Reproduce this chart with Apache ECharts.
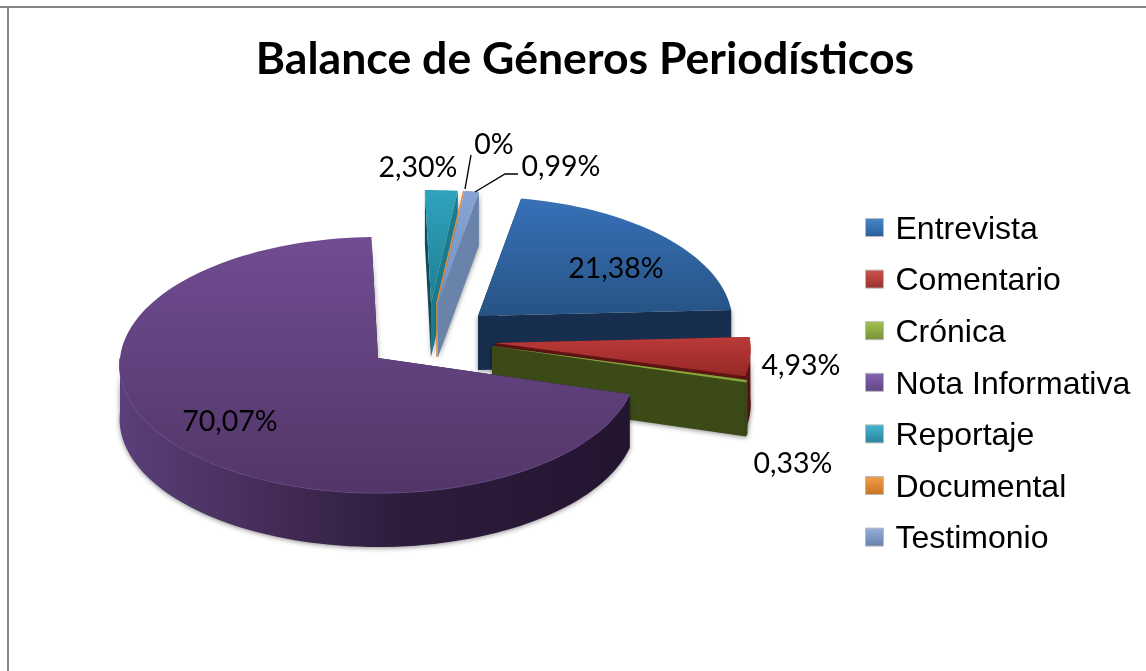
<!DOCTYPE html>
<html>
<head>
<meta charset="utf-8">
<style>html,body{margin:0;padding:0;background:#fff}#c{width:1146px;height:671px}</style>
<script src="https://cdn.jsdelivr.net/npm/echarts@6/dist/echarts.min.js"></script>
</head>
<body>
<div id="c"></div>
<script>
var titleText = 'Balance de Géneros Periodísticos';
var categories = ['Entrevista', 'Comentario', 'Crónica', 'Nota Informativa', 'Reportaje', 'Documental', 'Testimonio'];
var values = [21.38, 4.93, 0.33, 70.07, 2.30, 0, 0.99];
var valueLabels = ['21,38%', '4,93%', '0,33%', '70,07%', '2,30%', '0%', '0,99%'];

// Projection of the tilted pie
var RX = 258, RY = 127.6, PERSP = 0.0547, DEPTH = 54, START = 10.3;

// Appearance and placement of each slice (not data)
var look = {
  'Entrevista':       {ax:478, ay:316, r:0.985, z:4, top:['#3871b9','#265384'], wall:'#172e4e', side:'#172e4e', swatch:['#2a5d99','#4a87cc'], lx:616, ly:269},
  'Comentario':       {ax:495, ay:343, r:0.99,  z:5, top:['#bb3a38','#962826'], wall:'#5f1413', side:'#5f1413', swatch:['#97302e','#d05350'], lx:801, ly:366},
  'Crónica':          {ax:492, ay:346, r:1.01,  z:6, top:['#93ad40','#84a038'], wall:'#3c4a18', side:'#3c4a18', swatch:['#76923a','#a4c24f'], lx:793, ly:464},
  'Nota Informativa': {ax:378, ay:358, r:1,     z:7, top:['#704c92','#523668'], wall:['#5a3f79','#2f1c3c','#231430'], side:'#2a1835', swatch:['#5f4585','#8764b0'], lx:230, ly:422, rim:'#6f5293'},
  'Reportaje':        {ax:431, ay:303, r:0.93,  z:1, top:['#2fa3bd','#1e7f92'], wall:'#114a58', side:'#114a58', sideEnd:'#1c7a8d', swatch:['#2b8199','#46b6d2'], lx:418, ly:168},
  'Documental':       {ax:437, ay:303, r:0.93,  z:3, line:'#dc8d48', top:['#dc8d48','#dc8d48'], wall:'#dc8d48', side:'#dc8d48', swatch:['#c87420','#f0a050'], lx:494, ly:145,
                       leader:[[465,189],[471,155]]},
  'Testimonio':       {ax:438, ay:303, r:0.93,  z:2, top:['#87a3d3','#7692c2'], wall:'#6a83ab', side:'#6a83ab', swatch:['#6880aa','#95b0dc'], lx:561, ly:167,
                       leader:[[475,192],[505,174],[518,174]]}
};

function gradV(c){return {type:'linear',x:0,y:0,x2:0,y2:1,colorStops:[{offset:0,color:c[0]},{offset:1,color:c[1]}]};}
function gradH(c){return {type:'linear',x:0,y:0,x2:1,y2:0,colorStops:[{offset:0,color:c[0]},{offset:0.55,color:c[1]},{offset:1,color:c[2]}]};}

function project(l, deg){
  var t = deg * Math.PI / 180, u = Math.sin(t) * l.r, v = -Math.cos(t) * l.r, k = 1 / (1 - PERSP * v);
  return [l.ax + RX * u * k, l.ay + RY * v * k];
}
function down(p){return [p[0], p[1] + DEPTH];}
function arc(l, a, b){
  var pts = [], n = Math.max(1, Math.ceil((b - a) / 2));
  for (var i = 0; i <= n; i++) pts.push(project(l, a + (b - a) * i / n));
  return pts;
}

var total = values.reduce(function(s, v){return s + v;}, 0);

function makeRender(idx){
  return function(params, api){
    var name = categories[idx], l = look[name], val = api.value(0), before = 0;
    for (var i = 0; i < idx; i++) before += values[i];
    var a = START + before / total * 360, b = a + val / total * 360;
    var apex = [l.ax, l.ay], apexB = down(apex), outer = arc(l, a, b);
    var first = outer[0], last = outer[outer.length - 1];
    var shadow = {shadowBlur:5, shadowColor:'rgba(0,0,0,0.45)', shadowOffsetY:1};
    var kids = [];
    function poly(pts, style){kids.push({type:'polygon', shape:{points:pts}, style:style});}
    function line(pts, color, w){kids.push({type:'polyline', shape:{points:pts}, style:{stroke:color, lineWidth:w, fill:null}});}

    if (l.line) {
      line([first, apex, apexB], l.line, 1.6);
    } else {
      // cut faces
      poly([apex, last, down(last), apexB], Object.assign({fill:l.sideEnd || l.side}, shadow));
      poly([apex, first, down(first), apexB], {fill:l.side});
      // front part of the rounded wall
      var fa = Math.max(a, 90), fb = Math.min(b, 270);
      if (fb > fa) {
        var front = arc(l, fa, fb);
        var fill = Array.isArray(l.wall) ? gradH(l.wall) : l.wall;
        poly(front.concat(front.map(down).reverse()), Object.assign({fill:fill}, shadow));
        if (l.rim) line(front, l.rim, 1.2);
      }
      // top face
      poly([apex].concat(outer), {fill:gradV(l.top)});
    }
    if (l.leader) line(l.leader, '#000', 1.4);
    kids.push({type:'text', z2:50, style:{x:l.lx, y:l.ly, text:valueLabels[idx], fill:'#000',
      font:'28.5px Lato', align:'center', verticalAlign:'middle'}});
    return {type:'group', children:kids};
  };
}

var chart = echarts.init(document.getElementById('c'), null, {renderer:'canvas'});
chart.setOption({
  animation:false,
  backgroundColor:'#fff',
  title:{text:titleText, left:580, top:32, textAlign:'center',
    textStyle:{fontFamily:'Lato', fontWeight:'bold', fontSize:44.6, color:'#000'}},
  legend:{
    orient:'vertical', left:865, top:214, padding:0, itemWidth:18, itemHeight:18, itemGap:19.6,
    selectedMode:false,
    formatter:'{t|{name}}',
    textStyle:{rich:{t:{fontFamily:'Liberation Sans', fontSize:32, color:'#000', padding:[5,0,0,7]}}},
    data:categories.map(function(n){
      return {name:n, icon:'rect', itemStyle:{color:gradV([look[n].swatch[1], look[n].swatch[0]]),
        borderColor:'#b9b9b9', borderWidth:1}};
    })
  },
  graphic:[
    {type:'rect', shape:{x:0, y:6, width:1146, height:2}, style:{fill:'#868686'}, silent:true},
    {type:'rect', shape:{x:7, y:6, width:2, height:665}, style:{fill:'#868686'}, silent:true}
  ],
  series:categories.map(function(n, i){
    return {name:n, type:'custom', coordinateSystem:'none', z:look[n].z + 2, silent:true,
      itemStyle:{color:look[n].swatch[0]}, encode:{value:0},
      data:[[values[i]]], renderItem:makeRender(i)};
  })
});
</script>
</body>
</html>
